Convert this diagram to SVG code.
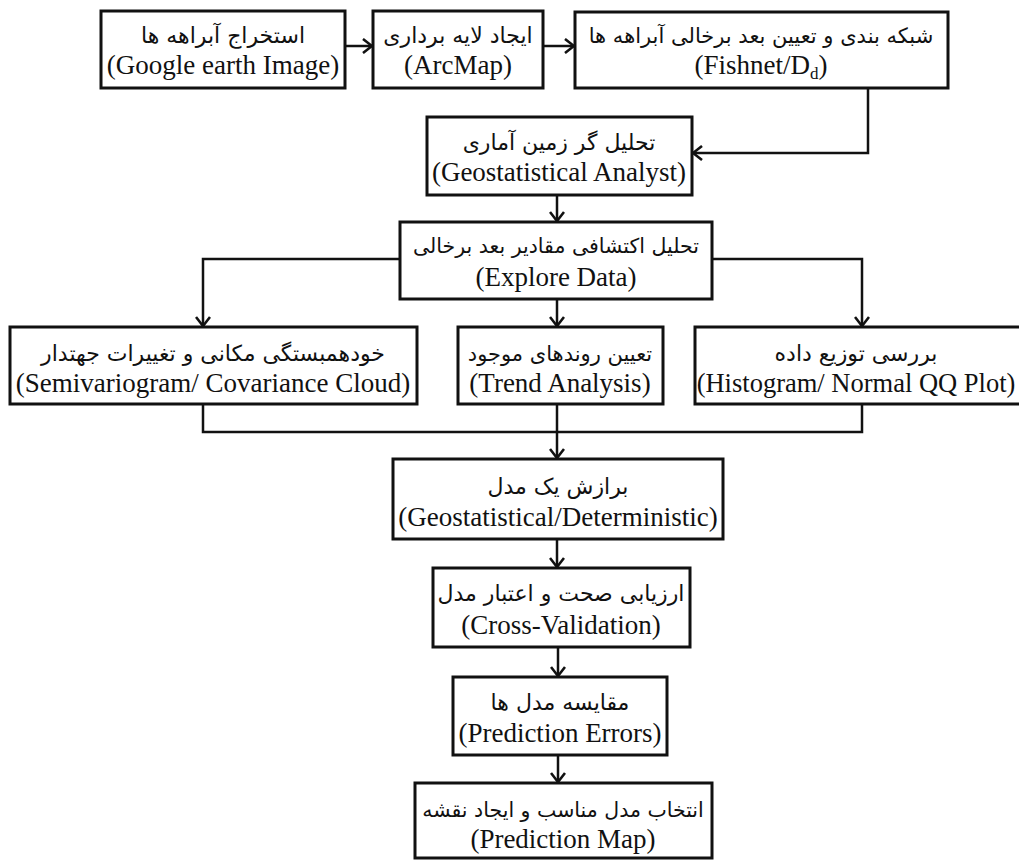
<svg xmlns="http://www.w3.org/2000/svg" width="1019" height="860" viewBox="0 0 1019 860">
<style>
.box{fill:#fff;stroke:#111;stroke-width:3}
.fa{font-family:"DejaVu Sans","Noto Sans",sans-serif;font-size:22px;fill:#111;text-anchor:middle}
.en{font-family:"Liberation Serif","Times New Roman",serif;font-size:27px;fill:#111;text-anchor:middle}
.ln{fill:none;stroke:#111;stroke-width:2.5}
</style>
<defs>
<marker id="ah" viewBox="0 0 12 16" refX="11" refY="8" markerWidth="12" markerHeight="16" markerUnits="userSpaceOnUse" orient="auto">
<polyline points="2,1 11,8 2,15" fill="none" stroke="#111" stroke-width="2.6"/>
</marker>
</defs>
<rect width="1019" height="860" fill="#fff"/>
<g id="connectors">
<line class="ln" x1="345" y1="46" x2="372" y2="46" marker-end="url(#ah)"/>
<line class="ln" x1="543" y1="46" x2="574" y2="46" marker-end="url(#ah)"/>
<polyline class="ln" points="868,88 868,153 693,153" marker-end="url(#ah)"/>
<line class="ln" x1="557" y1="195" x2="557" y2="221" marker-end="url(#ah)"/>
<polyline class="ln" points="400,259 203,259 203,326" marker-end="url(#ah)"/>
<polyline class="ln" points="712,259 862,259 862,326" marker-end="url(#ah)"/>
<line class="ln" x1="557" y1="299" x2="557" y2="326" marker-end="url(#ah)"/>
<polyline class="ln" points="203,404 203,432 862,432 862,404"/>
<line class="ln" x1="557" y1="404" x2="557" y2="458" marker-end="url(#ah)"/>
<line class="ln" x1="557" y1="539" x2="557" y2="567" marker-end="url(#ah)"/>
<line class="ln" x1="558" y1="647" x2="558" y2="676" marker-end="url(#ah)"/>
<line class="ln" x1="558" y1="755" x2="558" y2="782" marker-end="url(#ah)"/>
</g>
<g id="n1"><rect class="box" x="101" y="11" width="244" height="77"/>
<text class="fa" x="223" y="43">استخراج آبراهه ها</text>
<text class="en" x="223" y="74">(Google earth Image)</text></g>
<g id="n2"><rect class="box" x="373" y="11" width="170" height="77"/>
<text class="fa" x="458" y="43">ایجاد لایه برداری</text>
<text class="en" x="458" y="74">(ArcMap)</text></g>
<g id="n3"><rect class="box" x="575" y="12" width="373" height="76"/>
<text class="fa" x="761" y="43" style="font-size:21px">شبکه بندی و تعیین بعد برخالی آبراهه ها</text>
<text class="en" x="761" y="74">(Fishnet/D<tspan style="font-size:17px" dy="5">d</tspan><tspan dy="-5">)</tspan></text></g>
<g id="n4"><rect class="box" x="427" y="117" width="265" height="78"/>
<text class="fa" x="559" y="150">تحلیل گر زمین آماری</text>
<text class="en" x="559" y="181">(Geostatistical Analyst)</text></g>
<g id="n5"><rect class="box" x="400" y="222" width="312" height="77"/>
<text class="fa" x="556" y="253" style="font-size:20.5px">تحلیل اکتشافی مقادیر بعد برخالی</text>
<text class="en" x="556" y="286">(Explore Data)</text></g>
<g id="n6"><rect class="box" x="10" y="327" width="407" height="77"/>
<text class="fa" x="213" y="361">خودهمبستگی مکانی و تغییرات جهتدار</text>
<text class="en" x="213" y="392">(Semivariogram/ Covariance Cloud)</text></g>
<g id="n7"><rect class="box" x="458" y="327" width="205" height="77"/>
<text class="fa" x="560" y="361" style="font-size:21px">تعیین روندهای موجود</text>
<text class="en" x="560" y="392">(Trend Analysis)</text></g>
<g id="n8"><rect class="box" x="695" y="327" width="330" height="77"/>
<text class="fa" x="856" y="361">بررسی توزیع داده</text>
<text class="en" x="856" y="392" style="font-size:26.5px">(Histogram/ Normal QQ Plot)</text></g>
<g id="n9"><rect class="box" x="393" y="459" width="330" height="80"/>
<text class="fa" x="558" y="494">برازش یک مدل</text>
<text class="en" x="558" y="526">(Geostatistical/Deterministic)</text></g>
<g id="n10"><rect class="box" x="433" y="568" width="257" height="79"/>
<text class="fa" x="561" y="601">ارزیابی صحت و اعتبار مدل</text>
<text class="en" x="561" y="634">(Cross-Validation)</text></g>
<g id="n11"><rect class="box" x="453" y="677" width="214" height="78"/>
<text class="fa" x="560" y="710">مقایسه مدل ها</text>
<text class="en" x="560" y="742">(Prediction Errors)</text></g>
<g id="n12"><rect class="box" x="415" y="783" width="297" height="75"/>
<text class="fa" x="563" y="817" style="font-size:20.5px">انتخاب مدل مناسب و ایجاد نقشه</text>
<text class="en" x="563" y="848">(Prediction Map)</text></g>
</svg>
